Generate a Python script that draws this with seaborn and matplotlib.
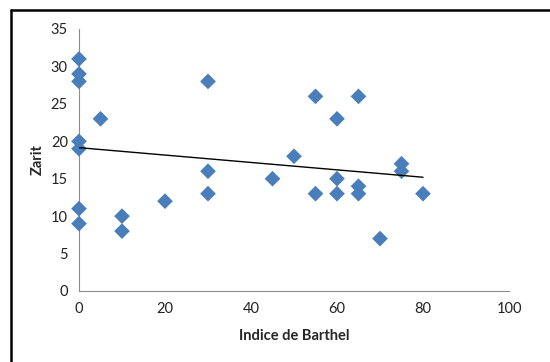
import numpy as np
import pandas as pd
import matplotlib
matplotlib.use("Agg")
import matplotlib.pyplot as plt
import seaborn as sns
from matplotlib.lines import Line2D

# Barthel index vs Zarit burden score
barthel = [0, 0, 0, 0, 0, 0, 0, 5, 10, 10, 20, 30, 30, 30, 45, 50,
           55, 55, 60, 60, 60, 65, 65, 65, 70, 75, 75, 80]
zarit = [31, 29, 28, 20, 19, 11, 9, 23, 10, 8, 12, 28, 16, 13, 15, 18,
         26, 13, 23, 15, 13, 26, 14, 13, 7, 17, 16, 13]
x_ticks = [0, 20, 40, 60, 80, 100]
y_ticks = [0, 5, 10, 15, 20, 25, 30, 35]

df = pd.DataFrame({"Indice de Barthel": barthel, "Zarit": zarit})

sns.set_theme(style="white")
plt.rcParams["font.family"] = ["Lato", "DejaVu Sans"]

fig = plt.figure(figsize=(5.5, 3.62), dpi=100)
ax = fig.add_axes([79 / 550, 1 - 291 / 362, 430 / 550, 262 / 362])

sns.scatterplot(data=df, x="Indice de Barthel", y="Zarit", ax=ax,
                marker="D", s=64, color="#4A7EBB", edgecolor="none",
                zorder=3, clip_on=False)

# linear trend line over the observed range
slope, intercept = np.polyfit(barthel, zarit, 1)
xs = np.array([min(barthel), max(barthel)])
ax.plot(xs, slope * xs + intercept, color="black", lw=1.0, zorder=4)

ax.set_xlim(0, 100)
ax.set_ylim(0, 35)
ax.set_xticks(x_ticks)
ax.set_yticks(y_ticks)
ax.tick_params(axis="both", length=0, labelsize=10.5, colors="#222222")
ax.tick_params(axis="x", pad=8)
ax.tick_params(axis="y", pad=8)
for side in ("top", "right"):
    ax.spines[side].set_visible(False)
for side in ("left", "bottom"):
    ax.spines[side].set_color("#8c8c8c")
    ax.spines[side].set_linewidth(0.8)

ax.set_xlabel("Indice de Barthel", fontsize=10.5, fontweight="bold", labelpad=9)
ax.set_ylabel("Zarit", fontsize=10.5, fontweight="bold", labelpad=4)

# outer chart frame: top and left edges
top_y = 1 - 10 / 362
left_x = 11 / 550
fig.add_artist(Line2D([left_x, 1.05], [top_y, top_y], transform=fig.transFigure,
                      color="black", linewidth=1.8))
fig.add_artist(Line2D([left_x, left_x], [-0.05, top_y], transform=fig.transFigure,
                      color="black", linewidth=1.8))

fig.savefig("out.png", dpi=100)
